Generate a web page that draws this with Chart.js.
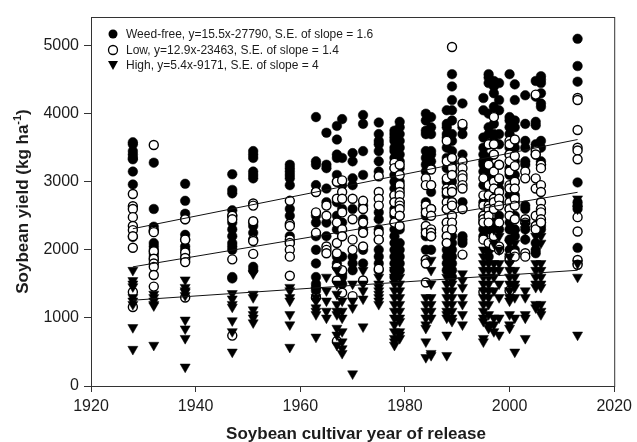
<!DOCTYPE html>
<html>
<head>
<meta charset="utf-8">
<script src="https://cdn.jsdelivr.net/npm/chart.js@4/dist/chart.umd.min.js"></script>
<style>
  html, body { margin: 0; padding: 0; background: #fff; }
  #wrap { width: 637px; height: 442px; }
</style>
</head>
<body>
<div id="wrap"><canvas id="yieldChart" width="637" height="442"></canvas></div>
<script>
/* =========================
   DATA (kg/ha by release year)
========================= */

const years = [1928, 1932, 1938, 1947, 1951, 1958, 1963, 1965, 1967, 1968,
  1970, 1972, 1975, 1978, 1979, 1984, 1985, 1988, 1989, 1991,
  1995, 1996, 1997, 1998, 2000, 2001, 2003, 2005, 2006, 2013];

const weedFree = [
  [3580, 3550, 3450, 3400, 3350, 3330, 3150, 2960, 2190],
  [3280, 2600, 2340, 2280, 2100, 2050, 2000, 1950, 1900, 1850],
  [2970, 2720, 2530, 2450, 2220, 2150, 2050, 2000, 1900, 1850],
  [3110, 2880, 2830, 2580, 2500, 2400, 2300, 2200, 2100, 2050, 2000, 1600, 1580],
  [3450, 3400, 3350, 3150, 3100, 3050, 2400, 2350, 2250, 1750, 1700],
  [3250, 3200, 3150, 3100, 3050, 2950, 2600, 2500, 2200, 2100],
  [3950, 3300, 3250, 2950, 2850, 2500, 2400, 2200, 2000, 1800, 1600, 1500, 1450, 1400],
  [3720, 3250, 3200, 2900, 2700, 2400, 2200],
  [3820, 3620, 3400, 3350, 3100, 3000, 2700, 2500, 2300, 1900, 1800],
  [3920, 3350, 2950, 2600, 2400, 2200, 1900, 1650, 1600, 1500],
  [3420, 3300, 3050, 2950, 2600, 1900, 1800, 1700],
  [3980, 3850, 3450, 3100, 2650, 2450, 2300, 2000, 1800],
  [3870, 3700, 3600, 3550, 3450, 3300, 3150, 2550, 2450, 2300, 2150, 2000, 1900, 1800, 1700],
  [3750, 3700, 3650, 3600, 3500, 3450, 3350, 3200, 3100, 3000, 2900, 2800, 2700, 2600,
    2500, 2400, 2300, 2200, 2100, 2000, 1900, 1800, 1700, 1600],
  [3880, 3800, 3700, 3600, 3500, 3400, 3300, 3200, 3000, 2900, 2700, 2500, 2300, 2100,
    2000, 1900, 1800, 1700],
  [4000, 3900, 3750, 3700, 3450, 3350, 3250, 3150, 2700, 2600, 2500, 2300, 2200, 2000, 1850],
  [3950, 3800, 3700, 3450, 3400, 3300, 3200, 2950, 2850, 2600, 2200, 2000],
  [4050, 3850, 3800, 3700, 3650, 3500, 3350, 3200, 3000, 2800, 2600, 2400, 2200, 2100,
    2000, 1900, 1800, 1700],
  [4580, 4400, 4200, 4050, 3900, 3700, 3600, 3450, 3300, 3250, 3150, 3000, 2900, 2700,
    2500, 2300, 2200, 2100, 2000, 1900, 1800, 1700, 1600],
  [4150, 3800, 3700, 3400, 3300, 2700, 2600, 2200, 2150, 2100],
  [4230, 4050, 3650, 3500, 3400, 3300, 3250, 3150, 2950, 2700, 2500, 2400, 2300, 2200],
  [4580, 4530, 4450, 4000, 3800, 3700, 3550, 3350, 3200, 3100, 3000, 2900, 2600, 2300, 2000, 1900],
  [4480, 4400, 4300, 4100, 4000, 3850, 3700, 3600, 3400, 3200, 3050, 2850, 2700, 2400],
  [4450, 4200, 4050, 3700, 3550, 3250, 3000, 2900, 2700, 2500, 2300],
  [4580, 3950, 3900, 3800, 3700, 3500, 3400, 3200, 3100, 2900, 2800, 2600, 2400, 2300, 2150, 2000],
  [4430, 4200, 3900, 3800, 3600, 3500, 3300, 3100, 3000, 2800, 2700, 2500, 2300, 2200, 2000],
  [4270, 3850, 3600, 3500, 3300, 3250, 2650, 2600, 2300, 2150],
  [4480, 4250, 3880, 3830, 3550, 3500, 3400, 2350, 2100, 2000, 1950],
  [4550, 4500, 4450, 4300, 4150, 4100, 3600, 3500, 3300, 3250, 2400, 2350, 2300],
  [5100, 4700, 4470, 2990, 2700, 2650, 2600, 2030, 1800]
];

const lowWeed = [
  [2820, 2640, 2600, 2480, 2350, 2290, 2200, 2030, 1380, 1160],
  [3540, 2280, 2260, 1980, 1870, 1800, 1750, 1630, 1460],
  [2450, 2150, 1960, 1880, 1820, 1300],
  [2500, 2450, 1860, 740],
  [2680, 2650, 2420, 2150, 2130, 1940],
  [2720, 2380, 2350, 2150, 2100, 2000, 1900, 1620],
  [2850, 2550, 2250, 1300],
  [2650, 2500, 2050, 2000, 1950],
  [3000, 2750, 2400, 2100, 1950, 1750, 1550, 660],
  [3020, 2850, 2750, 2550, 2300, 2200, 1700, 1370],
  [2750, 2450, 2150, 2000, 1320],
  [2720, 2600, 2400, 2250, 2050, 1550],
  [3080, 2850, 2750, 2650, 2250, 2150, 1720],
  [3280, 3200, 2800, 2700, 2550, 2400],
  [3250, 3100, 2950, 2850, 2800, 2700, 2650, 2600, 2500, 2350],
  [3050, 2950, 2650, 2550, 2350, 2250, 1850, 1800, 1520],
  [3180, 2950, 2600, 2500, 2300, 2250, 2200],
  [3600, 3300, 3050, 2900, 2850, 2700, 2600, 2400, 2300, 2200, 2100],
  [4980, 3350, 3200, 3100, 2900, 2850, 2700, 2650, 2500, 2400, 2300],
  [3850, 3300, 3200, 3100, 3050, 2950, 2900, 2600, 1930],
  [3050, 2800, 2650, 2500, 2450, 2400, 2150, 1380],
  [3550, 3250, 2950, 2800, 2650, 2600, 2500, 2400, 2100],
  [3950, 3550, 3400, 3150, 3000, 2900, 2750, 2700, 2600, 2200, 2050],
  [3250, 3050, 2850, 2750, 2650, 2400, 2050, 2000],
  [3600, 3550, 3400, 3300, 3150, 2950, 2900, 2700, 2600, 2500, 1900, 1850, 1400],
  [3620, 3380, 3230, 3000, 2900, 2750, 2650, 2450, 1950, 1900],
  [3150, 3050, 2450, 2400, 1950, 1900],
  [4280, 3450, 3400, 3050, 2900, 2500, 2350, 2300],
  [3250, 3200, 2950, 2850, 2700, 2600, 2550, 2450, 2400],
  [4230, 4200, 3760, 3500, 3460, 3330, 2480, 2270, 1850, 1780]
];

const highWeed = [
  [1700, 1550, 1500, 1460, 1300, 1250, 1200, 860, 540],
  [1350, 1300, 1250, 1200, 1180, 600],
  [1560, 1450, 1400, 1380, 1330, 970, 840, 700, 280],
  [1360, 1280, 1200, 1160, 960, 800, 500],
  [1650, 1350, 1300, 1120, 1050, 1000, 930],
  [1450, 1400, 1300, 1250, 1050, 900, 570],
  [1400, 1300, 1250, 1150, 1100, 1050, 720],
  [1600, 1400, 1250, 1100, 1000],
  [1700, 1500, 1350, 1200, 1100, 1050, 850, 750, 600],
  [1250, 1100, 1000, 800, 650, 550, 480],
  [1500, 1250, 1150, 180],
  [1700, 1500, 1400, 1280, 870],
  [1600, 1500, 1450, 1400, 1350, 1300, 1250, 1200],
  [1700, 1600, 1500, 1400, 1300, 1200, 1100, 1000, 900, 800, 700, 650, 600],
  [1600, 1500, 1400, 1300, 1200, 1100, 1000, 950, 800, 750, 700],
  [1300, 1200, 1100, 1000, 900, 850, 650, 420],
  [1850, 1700, 1500, 1300, 1200, 1100, 1000, 480, 450],
  [1600, 1500, 1400, 1300, 1200, 1100, 1050, 1000, 750, 450],
  [1500, 1400, 1300, 1200, 1100, 1000, 950],
  [1650, 1550, 1450, 1300, 1200, 1050, 900],
  [2000, 1900, 1800, 1700, 1600, 1500, 1400, 1300, 1200, 1100, 1000, 950, 700, 650],
  [1800, 1700, 1600, 1500, 1400, 1300, 1200, 1050, 900, 850],
  [2300, 2100, 1800, 1700, 1600, 1400, 1000, 900, 800],
  [2200, 2000, 1800, 1700, 1500, 1300, 1000, 750],
  [2100, 1900, 1800, 1700, 1600, 1500, 1400, 1300, 1250, 1050, 900, 850],
  [2250, 2100, 1700, 1600, 1500, 1450, 1300, 1000, 500],
  [2400, 2350, 2300, 1400, 1300, 1050, 1000, 700],
  [2200, 1800, 1700, 1600, 1500, 1450, 1200, 1150],
  [2200, 2100, 1800, 1700, 1600, 1500, 1450, 1200, 1100, 1050],
  [2750, 2600, 1800, 1600, 750]
];

// fitted lines as drawn (start / end year and yield)
const fitYears = [1928, 2013];
const fitWeedFree = [2310, 3620];
const fitLow = [1750, 2845];
const fitHigh = [1260, 1700];

const legendLabels = [
  'Weed-free, y=15.5x-27790, S.E. of slope = 1.6',
  'Low, y=12.9x-23463, S.E. of slope = 1.4',
  'High, y=5.4x-9171, S.E. of slope = 4'
];

const xTicks = [1920, 1940, 1960, 1980, 2000, 2020];
const yTicks = [0, 1000, 2000, 3000, 4000, 5000];

/* =========================
   HELPERS
========================= */

const FONT = "'Liberation Sans', Arial, sans-serif";
const INK = '#1c1c1c';

function toPoints(cols) {
  const pts = [];
  cols.forEach((vals, i) => {
    vals.forEach(v => pts.push({ x: years[i], y: v }));
  });
  return pts;
}

function fitLine(vals) {
  return fitYears.map((x, i) => ({ x: x, y: vals[i] }));
}

const lineStyle = {
  type: 'line',
  borderColor: '#111',
  borderWidth: 1,
  pointRadius: 0,
  fill: false,
  order: 0
};

/* =========================
   FRAME, LEGEND, TITLES
========================= */

const decor = {
  id: 'decor',
  afterDraw(chart) {
    const ctx = chart.ctx;
    const a = chart.chartArea;
    ctx.save();

    // box
    ctx.strokeStyle = '#333';
    ctx.lineWidth = 1;
    ctx.strokeRect(a.left + 0.5, a.top + 0.5, a.right - a.left, a.bottom - a.top);

    // legend
    const lx = 113;
    const rows = [34, 50, 65];
    ctx.font = '12px ' + FONT;
    ctx.textBaseline = 'middle';
    ctx.fillStyle = INK;
    rows.forEach((ry, i) => {
      ctx.beginPath();
      if (i === 2) {
        ctx.moveTo(lx - 5, ry - 4);
        ctx.lineTo(lx + 5, ry - 4);
        ctx.lineTo(lx, ry + 5);
        ctx.closePath();
        ctx.fillStyle = '#000';
        ctx.fill();
      } else {
        ctx.arc(lx, ry, 4.5, 0, Math.PI * 2);
        if (i === 0) {
          ctx.fillStyle = '#000';
          ctx.fill();
        } else {
          ctx.fillStyle = '#fff';
          ctx.fill();
          ctx.lineWidth = 1.3;
          ctx.strokeStyle = '#000';
          ctx.stroke();
        }
      }
      ctx.fillStyle = INK;
      ctx.fillText(legendLabels[i], 126, ry + 1);
    });

    // x title
    ctx.font = 'bold 17px ' + FONT;
    ctx.textAlign = 'center';
    ctx.textBaseline = 'alphabetic';
    ctx.fillText('Soybean cultivar year of release', 356, 439);

    // y title with superscript
    const main = 'Soybean yield (kg ha';
    const sup = '-1';
    const close = ')';
    ctx.translate(22, (a.top + a.bottom) / 2);
    ctx.rotate(-Math.PI / 2);
    ctx.textAlign = 'left';
    ctx.font = 'bold 17px ' + FONT;
    const w1 = ctx.measureText(main).width;
    const w3 = ctx.measureText(close).width;
    ctx.font = 'bold 11px ' + FONT;
    const w2 = ctx.measureText(sup).width;
    let sx = -(w1 + w2 + w3) / 2;
    ctx.font = 'bold 17px ' + FONT;
    ctx.fillText(main, sx, 6);
    sx += w1;
    ctx.font = 'bold 11px ' + FONT;
    ctx.fillText(sup, sx, -1);
    sx += w2;
    ctx.font = 'bold 17px ' + FONT;
    ctx.fillText(close, sx, 6);

    ctx.restore();
  }
};

/* =========================
   CHART
========================= */

new Chart(document.getElementById('yieldChart'), {
  type: 'scatter',
  data: {
    datasets: [
      Object.assign({ label: 'Weed-free fit', data: fitLine(fitWeedFree) }, lineStyle),
      Object.assign({ label: 'Low fit', data: fitLine(fitLow) }, lineStyle),
      Object.assign({ label: 'High fit', data: fitLine(fitHigh) }, lineStyle),
      {
        label: 'High',
        data: toPoints(highWeed),
        pointStyle: 'triangle',
        rotation: 180,
        radius: 5.8,
        backgroundColor: '#000',
        borderColor: '#000',
        borderWidth: 0.5,
        order: 1
      },
      {
        label: 'Low',
        data: toPoints(lowWeed),
        pointStyle: 'circle',
        radius: 4.5,
        backgroundColor: '#fff',
        borderColor: '#000',
        borderWidth: 1.4,
        order: 2
      },
      {
        label: 'Weed-free',
        data: toPoints(weedFree),
        pointStyle: 'circle',
        radius: 4.8,
        backgroundColor: '#000',
        borderColor: '#000',
        borderWidth: 0.5,
        order: 3
      }
    ]
  },
  options: {
    responsive: false,
    animation: false,
    events: [],
    layout: {
      padding: { top: 17, right: 17, left: 0, bottom: 0 }
    },
    plugins: {
      legend: { display: false },
      tooltip: { enabled: false }
    },
    scales: {
      x: {
        type: 'linear',
        min: 1920,
        max: 2020,
        afterBuildTicks(scale) {
          scale.ticks = xTicks.map(v => ({ value: v }));
        },
        afterFit(scale) {
          scale.height = 56;
        },
        grid: {
          drawOnChartArea: false,
          drawTicks: true,
          tickLength: 6,
          color: '#333'
        },
        border: { display: true, color: '#333', width: 1 },
        ticks: {
          color: INK,
          padding: 5,
          maxRotation: 0,
          callback: v => String(v),
          font: { family: FONT, size: 16 }
        }
      },
      y: {
        type: 'linear',
        min: 0,
        max: 5420,
        afterBuildTicks(scale) {
          scale.ticks = yTicks.map(v => ({ value: v }));
        },
        afterFit(scale) {
          scale.width = 91;
        },
        grid: {
          drawOnChartArea: false,
          drawTicks: true,
          tickLength: 7,
          color: '#333'
        },
        border: { display: true, color: '#333', width: 1 },
        ticks: {
          color: INK,
          padding: 5,
          callback: v => String(v),
          font: { family: FONT, size: 16 }
        }
      }
    }
  },
  plugins: [decor]
});
</script>
</body>
</html>
